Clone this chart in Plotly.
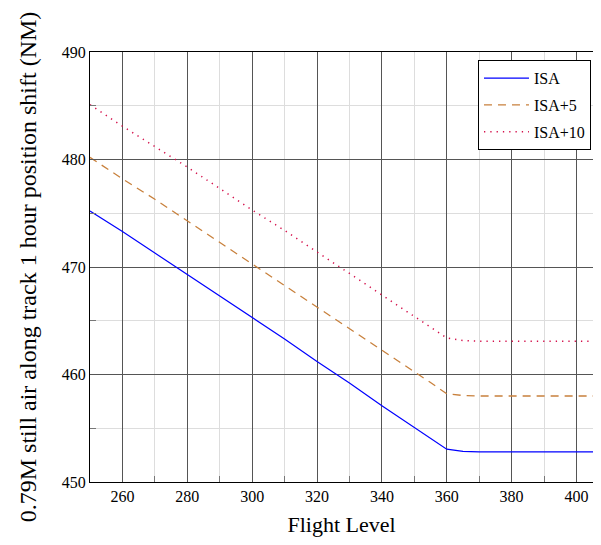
import plotly.graph_objects as go

# Data
flight_level = [250, 260, 270, 280, 290, 300, 310, 320, 330, 340, 350, 355, 360, 365,
                370, 380, 390, 400, 410]
isa = [475.2, 473.3, 471.3, 469.3, 467.3, 465.3, 463.3, 461.2, 459.2, 457.1, 455.1, 454.1,
       453.05, 452.85, 452.8, 452.8, 452.8, 452.8, 452.8]
isa_p5 = [480.2, 478.2, 476.3, 474.3, 472.3, 470.3, 468.3, 466.3, 464.3, 462.3, 460.3, 459.25,
          458.2, 458.05, 458.0, 458.0, 458.0, 458.0, 458.0]
isa_p10 = [485.1, 483.1, 481.2, 479.3, 477.3, 475.3, 473.4, 471.4, 469.4, 467.4, 465.4, 464.4,
           463.4, 463.15, 463.1, 463.1, 463.1, 463.1, 463.1]

serif = "Liberation Serif, Times New Roman, serif"

fig = go.Figure()

fig.add_trace(go.Scatter(x=flight_level, y=isa, mode='lines', name='ISA', legendgroup='a',
                         line=dict(color='#0000ff', width=1.2)))
fig.add_trace(go.Scatter(x=flight_level, y=isa_p5, mode='lines', name='ISA+5', legendgroup='b',
                         line=dict(color='#c8803c', width=1.3, dash='8px,6px')))
fig.add_trace(go.Scatter(x=flight_level, y=isa_p10, mode='lines', name='ISA+10', legendgroup='c',
                         line=dict(color='#d40f4a', width=1.5, dash='1.3px,5px')))

# page body has an 8px margin, so the figure fits inside 585 x 529
fig.update_layout(
    width=585, height=529,
    margin=dict(l=82, r=0, t=44, b=55),
    plot_bgcolor='white', paper_bgcolor='white',
    font=dict(family=serif, size=16, color='black'),
    legend=dict(x=0.996, xanchor='right', y=0.981, yanchor='top',
                bgcolor='white', bordercolor='black', borderwidth=1,
                font=dict(size=16), itemwidth=45, tracegroupgap=3),
    xaxis=dict(
        range=[250, 405.1], tickmode='linear', tick0=260, dtick=20,
        showline=True, linecolor='black', linewidth=1.2, mirror=True,
        showgrid=True, gridcolor='#555555', gridwidth=1,
        ticks='inside', ticklen=6, tickcolor='#555555',
        zeroline=False,
        minor=dict(dtick=10, tick0=250, showgrid=True, gridcolor='#dddddd',
                   ticks='inside', ticklen=6, tickcolor='#777777'),
        title=dict(text='Flight Level', font=dict(size=22), standoff=12),
    ),
    yaxis=dict(
        range=[450, 490], tickmode='linear', tick0=450, dtick=10,
        showline=True, linecolor='black', linewidth=1.2, mirror=False,
        showgrid=True, gridcolor='#555555', gridwidth=1,
        ticks='inside', ticklen=6, tickcolor='#555555',
        zeroline=False,
        minor=dict(dtick=5, showgrid=True, gridcolor='#dddddd',
                   ticks='inside', ticklen=6, tickcolor='#777777'),
        title=dict(text='0.79M still air along track 1 hour position shift (NM)',
                   font=dict(size=24), standoff=18),
    ),
)

fig.write_html("out.html")
